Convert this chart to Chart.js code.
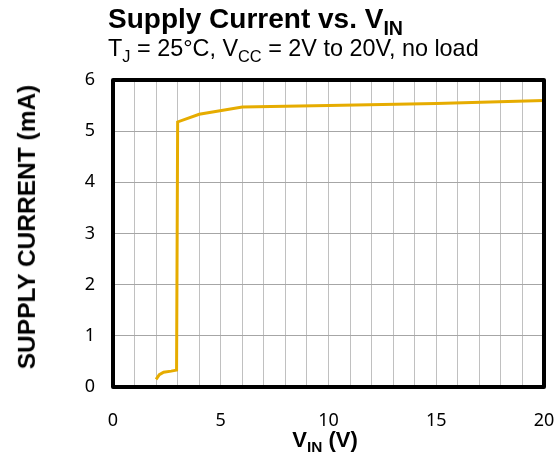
<!DOCTYPE html>
<html>
<head>
<meta charset="utf-8">
<script src="https://cdn.jsdelivr.net/npm/chart.js@4"></script>
<style>
  body { margin: 0; background: #fff; }
  #wrap { position: relative; width: 558px; height: 466px; }
  .txt { position: absolute; font-family: "Liberation Sans", Arial, sans-serif; color: #000; white-space: nowrap; line-height: 1.15; }
  #title { left: 108px; top: 3px; font-size: 28px; font-weight: bold; }
  #sub { left: 108px; top: 35px; font-size: 23.4px; }
  #xtitle { left: 0; width: 650px; text-align: center; top: 427px; font-size: 22px; font-weight: bold; }
  #ytitle { left: 27px; top: 227px; font-size: 24.5px; font-weight: bold; transform: translate(-50%, -50%) rotate(-90deg); }
  sub { font-size: 70%; vertical-align: -0.35em; line-height: 0; }
</style>
</head>
<body>
<div id="wrap">
  <canvas id="myChart" width="558" height="466"></canvas>
  <div class="txt" id="title">Supply Current vs. V<sub>IN</sub></div>
  <div class="txt" id="sub">T<sub>J</sub> = 25°C, V<sub>CC</sub> = 2V to 20V, no load</div>
  <div class="txt" id="xtitle">V<sub>IN</sub> (V)</div>
  <div class="txt" id="ytitle">SUPPLY CURRENT (mA)</div>
</div>
<script>
let vin = [2.0, 2.15, 2.35, 2.7, 2.95, 3.0, 4.0, 6.0, 10.0, 15.0, 20.0];
let current = [0.15, 0.24, 0.29, 0.31, 0.33, 5.18, 5.33, 5.47, 5.5, 5.54, 5.6];
let xTicks = [0, 5, 10, 15, 20];
let yTicks = [0, 1, 2, 3, 4, 5, 6];

let points = vin.map((v, i) => ({ x: v, y: current[i] }));

// thick frame round the plot area
let frame = {
    id: 'frame',
    afterDraw(chart) {
        let a = chart.chartArea;
        let c = chart.ctx;
        c.save();
        c.strokeStyle = '#000';
        c.lineWidth = 4;
        c.lineJoin = 'round';
        c.strokeRect(a.left, a.top, a.right - a.left, a.bottom - a.top);
        c.restore();
    }
};

let ctx = document.getElementById('myChart').getContext('2d');

let chart = new Chart(ctx, {
    type: 'line',
    data: {
        datasets: [{
            data: points,
            borderColor: '#E6AC00',
            borderWidth: 3,
            pointRadius: 0,
            tension: 0
        }]
    },
    options: {
        responsive: false,
        animation: false,
        layout: { padding: { left: 0, top: 80, right: 14, bottom: 0 } },
        plugins: { legend: { display: false }, tooltip: { enabled: false } },
        scales: {
            x: {
                type: 'linear',
                min: 0,
                max: 20,
                afterFit: s => { s.height = 79; s.paddingLeft = 0; s.paddingRight = 0; },
                afterBuildTicks: s => { s.ticks = Array.from({ length: 21 }, (_, i) => ({ value: i })); },
                ticks: {
                    autoSkip: false,
                    maxRotation: 0,
                    padding: 23,
                    color: '#000',
                    font: { family: 'Noto Sans', size: 18 },
                    callback: v => xTicks.includes(v) ? String(v) : ''
                },
                grid: { color: '#c0c0c0', lineWidth: 1, drawTicks: false },
                border: { display: false }
            },
            y: {
                min: 0,
                max: 6,
                afterFit: s => { s.width = 113; },
                afterBuildTicks: s => { s.ticks = yTicks.map(v => ({ value: v })); },
                ticks: {
                    padding: 18,
                    color: '#000',
                    font: { family: 'Noto Sans', size: 18 }
                },
                grid: { color: '#a6a6a6', lineWidth: 1, drawTicks: false },
                border: { display: false }
            }
        }
    },
    plugins: [frame]
});
</script>
</body>
</html>
